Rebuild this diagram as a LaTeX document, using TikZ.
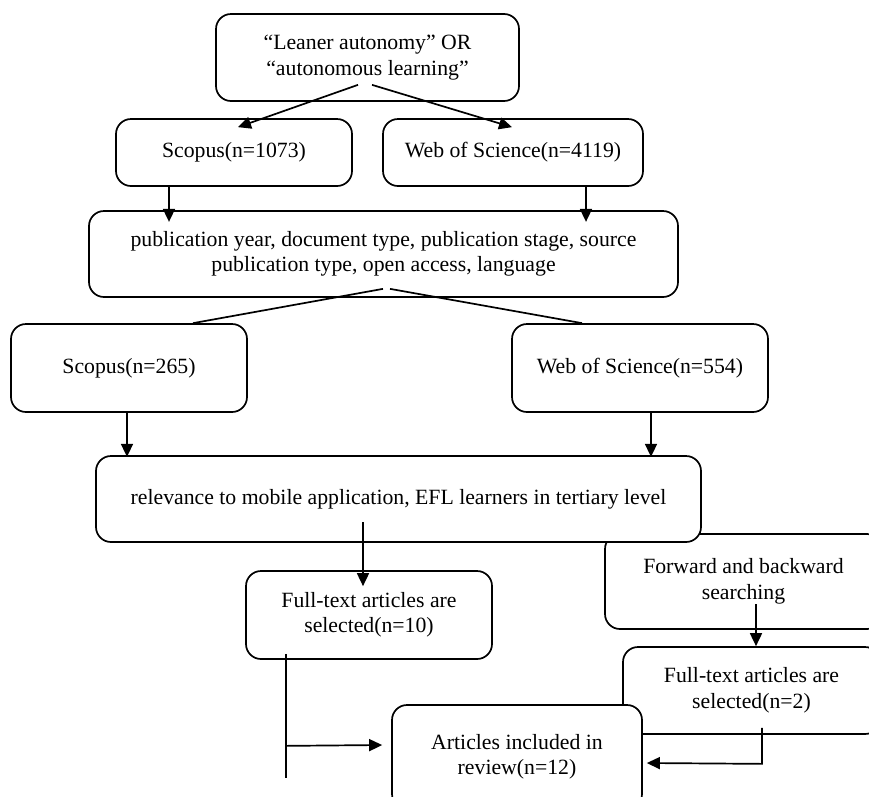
\documentclass[tikz,border=0pt]{standalone}
\usepackage{fontspec}
\setmainfont{Liberation Serif}
\usetikzlibrary{arrows.meta,calc}
\tikzset{
  box/.style={draw, line width=1.7pt, rounded corners=15pt, fill=white, align=center,
    inner sep=0pt, font=\fontsize{21.75}{25.5}\selectfont},
  arr/.style={line width=1.7pt, -{Triangle[length=13pt,width=12pt]}},
  ln/.style={line width=1.7pt},
}
\begin{document}
\begin{tikzpicture}[x=1pt,y=-1pt]
\useasboundingbox (0,0) rectangle (869,796);
\clip (0,0) rectangle (869,796);
\fill[white] (0,0) rectangle (869,796);
% boxes
\node[box, minimum width=303pt, minimum height=87pt] (q) at (367.5,57.5)
  {“Leaner autonomy” OR\\“autonomous learning”};
\node[box, minimum width=236pt, minimum height=67pt] (s1) at (234,152.5) {Scopus(n=1073)};
\node[box, minimum width=260pt, minimum height=67pt] (w1) at (513,152.5) {Web of Science(n=4119)};
\node[box, minimum width=589pt, minimum height=86pt] (f1) at (383.5,254)
  {publication year, document type, publication stage, source\\publication type, open access, language};
\node[box, minimum width=236pt, minimum height=88pt] (s2) at (129,368) {Scopus(n=265)};
\node[box, minimum width=256pt, minimum height=88pt] (w2) at (640,368) {Web of Science(n=554)};
\node[box, minimum width=277pt, minimum height=95pt] (fw) at (743.5,581.5)
  {Forward and backward\\searching};
\node[box, minimum width=605pt, minimum height=86pt] (r) at (398.5,499)
  {relevance to mobile application, EFL learners in tertiary level};
\node[box, minimum width=246pt, minimum height=88pt] (ft1) at (369,615)
  {Full-text articles are\\selected(n=10)};
\node[box, minimum width=257pt, minimum height=87pt] (ft2) at (751.5,690.5)
  {Full-text articles are\\selected(n=2)};
\node[box, minimum width=250pt, minimum height=104pt] (ar) at (517,757)
  {Articles included in\\review(n=12)};
% connectors
\draw[arr] ($(q.south)+(-9.5,-17)$) -- ($(s1.north)+(4,9)$);
\draw[arr] ($(q.south)+(4.5,-17)$) -- ($(w1.north)+(-1,9)$);
\draw[arr] ($(s1.south)+(-65,0)$) -- ($(s1.south)+(-65,35)$);
\draw[arr] ($(w1.south)+(73,0)$) -- ($(w1.south)+(73,35)$);
\draw[ln] ($(f1.south)+(-0.5,-9)$) -- ($(s2.north)+(64,0)$);
\draw[ln] ($(f1.south)+(6.5,-9)$) -- ($(w2.north)+(-58,0)$);
\draw[arr] ($(s2.south)+(-2,0)$) -- ($(s2.south)+(-2,44)$);
\draw[arr] ($(w2.south)+(11,0)$) -- ($(w2.south)+(11,44)$);
\draw[arr] ($(ft1.north)+(-6,-48)$) -- ($(ft1.north)+(-6,16)$);
\draw[arr] ($(ft2.north)+(4.5,-42)$) -- ($(ft2.north)+(4.5,0)$);
\coordinate (j1) at ($(ft1.south)+(-83,-6)$);
\draw[ln] (j1) -- ($(j1)+(0,124)$);
\draw[arr] ($(j1)+(0,92)$) -- ($(ar.west)+(-9,-12)$);
\coordinate (j2) at ($(ft2.south)+(10.5,-7)$);
\draw[arr] (j2) -- ($(j2)+(0,36)$) -- ($(ar.east)+(4,6)$);
\end{tikzpicture}
\end{document}
